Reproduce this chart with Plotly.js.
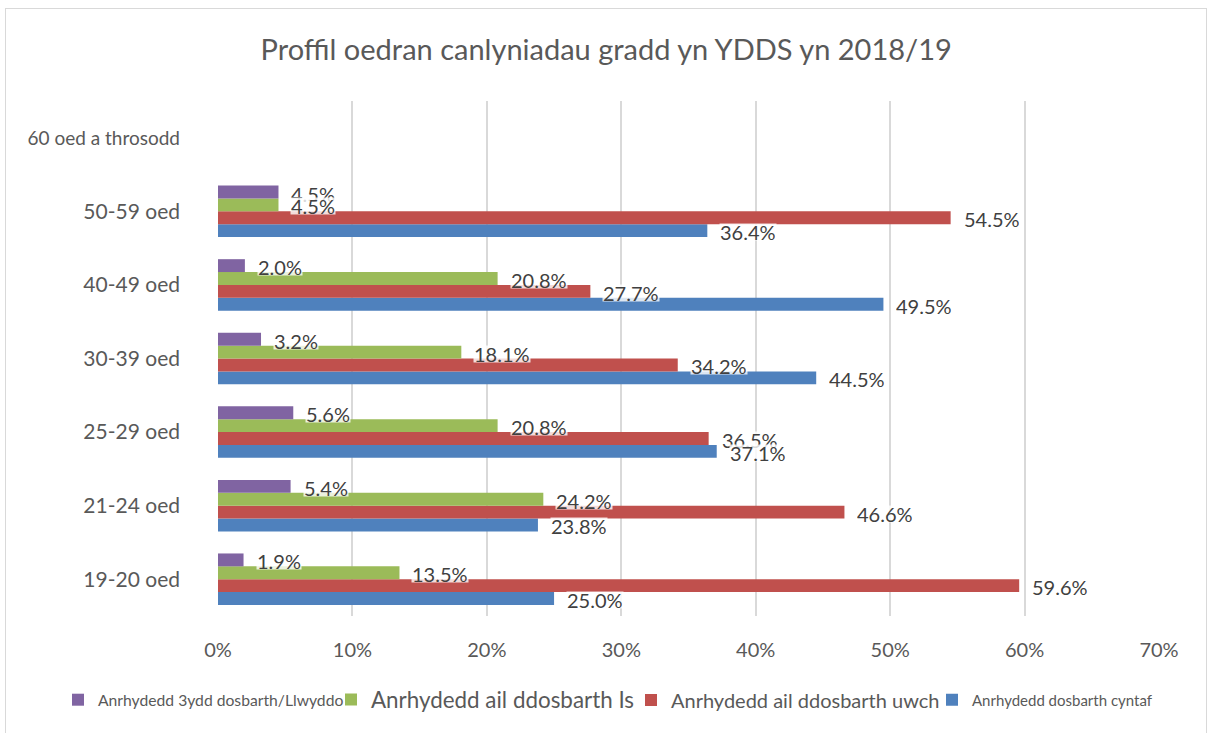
<!DOCTYPE html>
<html>
<head>
<meta charset="utf-8">
<script src="https://cdn.plot.ly/plotly-3.0.1.min.js"></script>
<style>
  html, body { margin: 0; padding: 0; background: #fff; overflow: hidden; }
  #chart { position: absolute; left: 0; top: 0; width: 1210px; height: 733px; }
  #frame { position: absolute; left: 5px; top: 8px; width: 1202px; height: 740px; border: 1px solid #d9d9d9; box-sizing: border-box; pointer-events: none; }
</style>
</head>
<body>
<div id="chart"></div>
<div id="frame"></div>
<script>
// ---- data ----
const categories = ['19-20 oed', '21-24 oed', '25-29 oed', '30-39 oed', '40-49 oed', '50-59 oed', '60 oed a throsodd'];
const tickLabels = ['19-20 oed', '21-24 oed', '25-29 oed', '30-39 oed', '40-49 oed', '50-59 oed',
                    '<span style="font-size:19px">60 oed a throsodd</span>'];
const firstClass   = [25.0, 23.8, 37.1, 44.5, 49.5, 36.4, null]; // Anrhydedd dosbarth cyntaf
const upperSecond  = [59.6, 46.6, 36.5, 34.2, 27.7, 54.5, null]; // Anrhydedd ail ddosbarth uwch
const lowerSecond  = [13.5, 24.2, 20.8, 18.1, 20.8, 4.5, null];  // Anrhydedd ail ddosbarth Is
const thirdPass    = [1.9, 5.4, 5.6, 3.2, 2.0, 4.5, null];       // Anrhydedd 3ydd dosbarth/Llwyddo
const seriesNames = [
  'Anrhydedd dosbarth cyntaf',
  'Anrhydedd ail ddosbarth uwch',
  'Anrhydedd ail ddosbarth Is',
  'Anrhydedd 3ydd dosbarth/Llwyddo'
];
const xTicks = [0, 10, 20, 30, 40, 50, 60, 70];
const xTickLabels = ['0%', '10%', '20%', '30%', '40%', '50%', '60%', '70%'];

// ---- styling ----
const colors = ['#4F81BD', '#C0504D', '#9BBB59', '#8064A2'];
const legendFontSizes = [15, 20, 22.4, 15.7];
const legendTextLeft = [969, 668, 368, 95]; // px from left of the page
const series = [firstClass, upperSecond, lowerSecond, thirdPass];
const legendIds = ['legend', 'legend2', 'legend3', 'legend4'];
const M = {l: 218, r: 51, t: 101, b: 117};
const W = 1210, H = 733;
const bargap = 0.3;
const plotH = H - M.t - M.b;
const bandPx = plotH / categories.length;
const barPx = bandPx * (1 - bargap) / series.length;
const FONT = 'Lato, sans-serif';

const traces = series.map((vals, i) => ({
  type: 'bar',
  orientation: 'h',
  y: categories,
  x: vals,
  name: seriesNames[i],
  legend: legendIds[i],
  marker: {color: colors[i]},
  hoverinfo: 'x+y'
}));

// labels: upper series first so lower series' labels sit on top
const annotations = [];
for (let i = series.length - 1; i >= 0; i--) {
  const vals = series[i];
  const shift = (i - (series.length - 1) / 2) * barPx - 1.5;
  vals.forEach((v, j) => {
    if (v === null) return;
    annotations.push({
      x: v, y: categories[j], xref: 'x', yref: 'y',
      text: v.toFixed(1) + '%',
      showarrow: false,
      xanchor: 'left', yanchor: 'middle',
      xshift: 12, yshift: shift,
      height: 16,
      bgcolor: 'rgba(255,255,255,0.8)', borderpad: 0,
      font: {family: FONT, size: 20, color: '#404040'}
    });
  });
}

const layout = {
  width: W, height: H,
  margin: M,
  paper_bgcolor: '#ffffff', plot_bgcolor: '#ffffff',
  font: {family: FONT, color: '#595959'},
  barmode: 'group',
  bargap: bargap,
  bargroupgap: 0,
  showlegend: true,
  title: {
    text: 'Proffil oedran canlyniadau gradd yn YDDS yn 2018/19',
    font: {family: FONT, size: 29, color: '#595959'},
    x: 0.501, xref: 'container', xanchor: 'center',
    y: 1 - 50 / H, yref: 'container', yanchor: 'middle'
  },
  xaxis: {
    range: [0, 70],
    tickvals: xTicks,
    ticktext: xTickLabels,
    showgrid: true, gridcolor: '#d9d9d9', gridwidth: 2,
    zeroline: true, zerolinecolor: '#ffffff', zerolinewidth: 3,
    showline: false, ticks: '',
    ticklabelstandoff: 20,
    tickfont: {family: FONT, size: 20, color: '#595959'},
    fixedrange: true
  },
  yaxis: {
    type: 'category',
    categoryorder: 'array', categoryarray: categories,
    tickvals: categories, ticktext: tickLabels,
    range: [-0.5, categories.length - 0.5],
    showgrid: false, zeroline: false, showline: false, ticks: '',
    ticklabelstandoff: 37,
    tickfont: {family: FONT, size: 21, color: '#595959'},
    fixedrange: true
  },
  annotations: annotations
};

legendIds.forEach((id, i) => {
  layout[id] = {
    orientation: 'h',
    xref: 'container', x: (legendTextLeft[i] - 37) / W, xanchor: 'left',
    yref: 'container', y: 1 - 700 / H, yanchor: 'middle',
    font: {family: FONT, size: legendFontSizes[i], color: '#595959'},
    itemwidth: 30,
    bgcolor: 'rgba(0,0,0,0)',
    borderwidth: 0
  };
});

Plotly.newPlot('chart', traces, layout, {displayModeBar: false, staticPlot: true});
</script>
</body>
</html>
